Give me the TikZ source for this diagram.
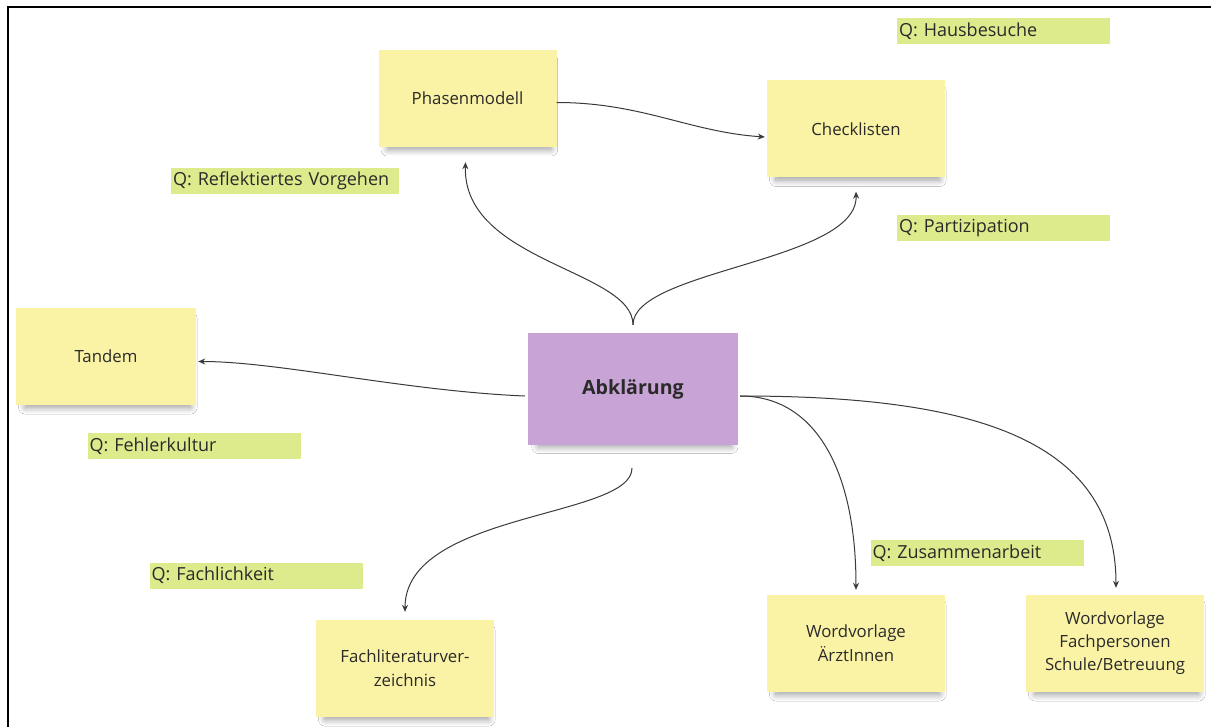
\documentclass[tikz,border=0pt]{standalone}
\usepackage{fontspec}
\setmainfont{Open Sans}
\usetikzlibrary{arrows.meta,shadows.blur}
\definecolor{noteY}{HTML}{FAF3A6}
\definecolor{notePurple}{HTML}{C8A3D5}
\definecolor{labelG}{HTML}{DDEB8C}
\definecolor{txt}{HTML}{2A2A2A}
\definecolor{arr}{HTML}{3A3A3A}
\tikzset{
  note/.style={fill=noteY, minimum width=178pt, minimum height=97pt, inner sep=0pt,
    align=center, text=txt, font=\fontsize{16.8}{24}\selectfont,
    blur shadow={shadow xshift=2pt, shadow yshift=-7pt, shadow blur radius=7pt, shadow blur steps=12, shadow opacity=40, shadow scale=0.92}},
  qlabel/.style={fill=labelG, minimum width=213pt, minimum height=26pt, inner xsep=2pt, inner ysep=0pt,
    text width=209pt, align=left, text=txt, font=\fontsize{18}{20}\selectfont},
  conn/.style={draw=arr, line width=1pt, -{Stealth[length=7pt,width=6pt]}}
}
\begin{document}
\begin{tikzpicture}[x=1pt,y=-1pt]
\useasboundingbox (0,0) rectangle (1211,727);
\fill[white] (0,0) rectangle (1211,727);
\draw[line width=1.5pt] (8,727) -- (8,7) -- (1211,7);

% sticky notes
\node[note] (pm) at (467.5,98.5) {Phasenmodell};
\node[note] (cl) at (856,129) {Checklisten};
\node[note, minimum width=180pt] (td) at (106,356.5) {Tandem};
\node[note, fill=notePurple, minimum width=210pt, minimum height=112pt,
      font=\fontsize{19.6}{23}\selectfont\bfseries] (abk) at (633,389) {Abklärung};
\node[note] (fl) at (405,668.5) {Fachliteraturver-\\zeichnis};
\node[note] (wa) at (856,643.5) {Wordvorlage\\ÄrztInnen};
\node[note, font=\fontsize{16.8}{23}\selectfont] (wf) at (1115,643.5) {Wordvorlage\\Fachpersonen\\Schule/Betreuung};

% labels
\node[qlabel] (qh) at (1003.5,31) {Q: Hausbesuche};
\node[qlabel, minimum width=228pt, text width=224pt] (qr) at (285,181) {Q: Reflektiertes Vorgehen};
\node[qlabel] (qp) at (1003.5,228) {Q: Partizipation};
\node[qlabel] (qf) at (194,446) {Q: Fehlerkultur};
\node[qlabel] (qfa) at (256,575.5) {Q: Fachlichkeit};
\node[qlabel] (qz) at (977,553) {Q: Zusammenarbeit};

% connectors
\draw[conn] ([yshift=-4pt]pm.east) .. controls +(85,0) and +(-75,-5) .. ([xshift=-2pt,yshift=-8pt]cl.west);
\draw[conn] ([yshift=8pt]abk.north) .. controls +(0,-55) and +(-3,100) .. ([xshift=-2pt,yshift=-15pt]pm.south);
\draw[conn] ([yshift=8pt]abk.north) .. controls +(0,-55) and +(2,70) .. ([yshift=-14pt]cl.south);
\draw[conn] ([xshift=-3pt,yshift=-7pt]abk.west) .. controls +(-120,-5) and +(80,0) .. ([xshift=2pt,yshift=-5pt]td.east);
\draw[conn] ([xshift=2pt,yshift=-7pt]abk.east) .. controls +(75,0) and +(0,-120) .. ([yshift=5pt]wa.north);
\draw[conn] ([xshift=2pt,yshift=-7pt]abk.east) .. controls +(230,0) and +(0,-150) .. ([xshift=1pt,yshift=7pt]wf.north);
\draw[conn] ([xshift=-1pt,yshift=-23pt]abk.south) .. controls +(0,50) and +(0,-100) .. ([yshift=8pt]fl.north);
\end{tikzpicture}
\end{document}
